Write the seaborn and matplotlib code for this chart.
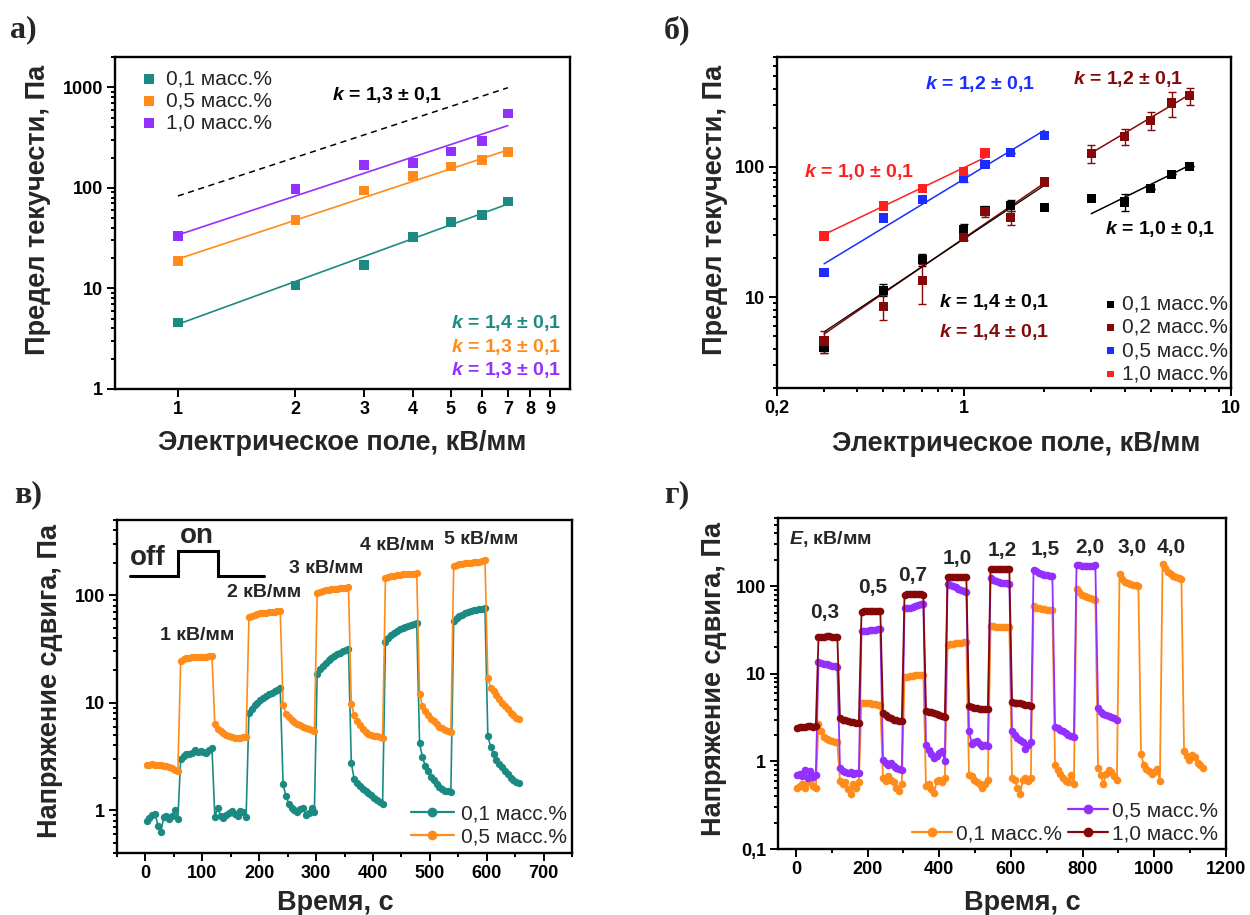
import numpy as np
import pandas as pd
import matplotlib
matplotlib.use("Agg")
import matplotlib.pyplot as plt
import seaborn as sns
from matplotlib.ticker import NullLocator, LogLocator, NullFormatter, MultipleLocator
from matplotlib.lines import Line2D

# ------------------------------------------------------------------ data
# panel а : yield stress vs field
field_a = [1, 2, 3, 4, 5, 6, 7]
tau_a_01 = [4.6, 10.7, 17, 32.6, 46, 54, 73]
tau_a_05 = [18.8, 47.7, 94, 131, 163, 188, 226]
tau_a_10 = [33.4, 98, 169, 177, 230, 293, 547]
fit_a_field = [1, 7]
fit_a_01 = [4.4, 69]
fit_a_05 = [19.6, 238]
fit_a_10 = [34, 416]
guide_a = [83, 990]

# panel б
field_b = [0.3, 0.5, 0.7, 1.0, 1.2, 1.5, 2.0, 3.0, 4.0, 5.0, 6.0, 7.0]
tau_b_01 = [4.1, 11.3, 19.4, 33, 46, 50.7, 48.6, 57, 53.8, 68, 88, 101]
err_b_01 = [0.4, 1.2, 2.0, 3.5, 3.0, 5.0, 0.0, 0.0, 8.0, 0.0, 0.0, 0.0]
tau_b_02 = [4.6, 8.5, 13.4, 28.5, 45.6, 41, 76.7, 127, 172, 228, 310, 352]
err_b_02 = [0.9, 1.8, 4.5, 1.0, 4.5, 5.0, 2.0, 20, 25, 35, 70, 55]
field_b_05 = [0.3, 0.5, 0.7, 1.0, 1.2, 1.5, 2.0]
tau_b_05 = [15.4, 40.5, 56, 82, 105, 129, 175]
err_b_05 = [0, 0, 0, 6, 0, 0, 0]
field_b_10 = [0.3, 0.5, 0.7, 1.0, 1.2]
tau_b_10 = [29.4, 50, 68, 92.7, 128]
fit_b_low = [0.3, 2.0]
fit_b_01_low = [5.4, 72]
fit_b_02_low = [5.2, 75]
fit_b_high = [3.0, 7.0]
fit_b_01_high = [43.7, 103]
fit_b_02_high = [128, 360]
fit_b_05 = [18.0, 191]
fit_b_10_x = [0.3, 1.2]
fit_b_10 = [30.2, 118]

# panel в : shear stress vs time (sampling step 5 s)
step_v = 5.0
start_v = 2.0
stress_v_01 = [
    0.80, 0.85, 0.90, 0.92, 0.72, 0.62, 0.86, 0.88, 0.82, 0.88, 1.00, 0.83,
    3.00, 3.20, 3.30, 3.35, 3.40, 3.60, 3.50, 3.55, 3.45, 3.40, 3.60, 3.75,
    0.87, 1.05, 0.88, 0.85, 0.90, 0.95, 0.98, 0.92, 0.88, 0.98, 0.96, 0.87,
    8.0, 8.8, 9.5, 10.0, 10.6, 11.1, 11.6, 12.0, 12.4, 12.8, 13.2, 13.6,
    1.75, 1.35, 1.15, 1.05, 1.00, 0.97, 1.02, 1.05, 0.90, 0.95, 1.05, 0.96,
    18.5, 20.5, 22.0, 23.5, 25.0, 26.2, 27.3, 28.3, 29.2, 30.0, 30.8, 31.6,
    2.75, 1.95, 1.80, 1.68, 1.58, 1.50, 1.43, 1.37, 1.30, 1.25, 1.20, 1.15,
    37, 40, 42.5, 44.5, 46.5, 48, 49.5, 51, 52, 53, 54, 55,
    4.2, 3.1, 2.6, 2.3, 2.05, 1.9, 1.75, 1.65, 1.58, 1.52, 1.50, 1.48,
    58, 61, 63.5, 65.5, 67.5, 69, 70.5, 72, 73, 74, 75, 75.5,
    4.9, 3.9, 3.3, 2.95, 2.7, 2.5, 2.3, 2.15, 2.0, 1.9, 1.82, 1.80,
]
stress_v_05 = [
    2.62, 2.65, 2.66, 2.64, 2.63, 2.62, 2.60, 2.56, 2.52, 2.45, 2.38, 2.32,
    24.5, 25.5, 26.0, 26.3, 26.5, 26.7, 26.6, 26.8, 26.5, 26.7, 26.9, 27.0,
    6.3, 5.7, 5.4, 5.2, 5.0, 4.9, 4.8, 4.7, 4.65, 4.7, 4.75, 4.8,
    62, 64.5, 66, 67, 67.5, 68, 68.5, 69, 69.5, 70, 70.5, 71,
    9.6, 7.9, 7.3, 6.9, 6.6, 6.4, 6.2, 6.0, 5.85, 5.7, 5.6, 5.5,
    104, 107, 109, 110.5, 112, 113, 114, 115, 116, 116.5, 117, 118,
    9.8, 7.6, 6.8, 6.2, 5.7, 5.35, 5.1, 5.0, 4.9, 4.85, 4.8, 4.65,
    143, 147, 150, 152, 153.5, 155, 156, 157, 157.5, 158, 158.5, 159,
    12.0, 9.3, 8.4, 7.7, 7.1, 6.7, 6.3, 6.0, 5.8, 5.6, 5.45, 5.35,
    188, 192, 194, 196, 198, 199, 200, 202, 203, 205, 207, 212,
    17.0, 13.8, 12.8, 11.8, 10.8, 10.0, 9.3, 8.7, 8.1, 7.6, 7.2, 7.0,
]
onoff_t = [-28, 58, 58, 127, 127, 208]
onoff_level = [150, 150, 258, 258, 150, 150]
fields_v = ["1 кВ/мм", "2 кВ/мм", "3 кВ/мм", "4 кВ/мм", "5 кВ/мм"]

# panel г : shear stress vs time (sampling step 7.5 s)
step_g = 7.5
start_g = 3.0
stress_g_01 = [
    0.50, 0.52, 0.55, 0.50, 0.58, 0.60, 0.52, 0.50,
    2.7, 2.2, 1.9, 1.8, 1.75, 1.7, 1.65, 1.65,
    0.60, 0.55, 0.58, 0.48, 0.42, 0.55, 0.50, 0.58,
    4.6, 4.7, 4.6, 4.6, 4.5, 4.5, 4.4, 4.4,
    0.65, 0.60, 0.68, 0.62, 0.58, 0.50, 0.46, 0.55,
    9.2, 9.3, 9.4, 9.5, 9.6, 9.7, 9.8, 9.8,
    0.52, 0.55, 0.48, 0.44, 0.60, 0.62, 0.58, 0.65,
    21.5, 22, 22, 22.3, 22.5, 22.7, 22.8, 23,
    0.70, 0.68, 0.62, 0.58, 0.55, 0.50, 0.55, 0.62,
    35, 35, 34.5, 34.5, 34.5, 34, 34, 34,
    0.65, 0.62, 0.50, 0.42, 0.62, 0.65, 0.60, 0.65,
    60, 57, 56, 55, 54.5, 54, 54, 54,
    0.92, 0.80, 0.72, 0.65, 0.60, 0.58, 0.70, 0.55,
    92, 85, 80, 77, 75, 73, 71.5, 70,
    0.85, 0.70, 0.55, 0.72, 0.80, 0.75, 0.68, 0.62,
    138, 120, 112, 108, 106, 104, 102, 100,
    1.20, 0.92, 0.82, 0.78, 0.72, 0.75, 0.82, 0.60,
    178, 160, 145, 137, 132, 128, 125, 122,
    1.30, 1.15, 1.05, 1.18, 1.12, 0.95, 0.90, 0.85,
]
stress_g_05 = [
    0.70, 0.72, 0.68, 0.80, 0.65, 0.78, 0.66, 0.70,
    13.5, 13.2, 13.0, 12.8, 12.6, 12.4, 12.2, 12.0,
    0.85, 0.78, 0.76, 0.74, 0.75, 0.72, 0.74, 0.73,
    31, 31, 31.2, 31.5, 31.7, 32, 32.2, 32.5,
    1.05, 0.95, 0.92, 0.95, 0.88, 0.85, 0.82, 0.80,
    57, 56, 57, 58, 59.5, 61, 62, 63,
    1.55, 1.35, 1.20, 1.10, 1.15, 1.25, 1.30, 1.00,
    107, 104, 100, 97, 94, 91, 89, 87,
    2.2, 1.6, 1.65, 1.70, 1.58, 1.50, 1.55, 1.50,
    125, 118, 114, 112, 110, 109, 108, 107,
    2.2, 2.0, 1.85, 1.75, 1.65, 1.40, 1.55, 1.65,
    155, 148, 143, 139, 136, 134, 132, 130,
    2.5, 2.4, 2.3, 2.2, 2.1, 2.0, 1.95, 1.9,
    175, 173, 172, 171, 171, 172, 172, 173,
    4.1, 3.7, 3.5, 3.4, 3.3, 3.2, 3.1, 3.0,
]
stress_g_10 = [
    2.40, 2.45, 2.50, 2.48, 2.52, 2.55, 2.50, 2.55,
    26, 26.5, 26.5, 26.8, 26.8, 26.5, 26.5, 26.5,
    3.10, 3.00, 2.95, 2.90, 2.85, 2.80, 2.78, 2.75,
    51, 51.5, 51.5, 52, 52, 52, 51.5, 51.5,
    3.6, 3.4, 3.25, 3.1, 3.0, 2.95, 2.90, 2.90,
    80, 80.5, 81, 81, 81, 80.5, 80.5, 80,
    3.8, 3.7, 3.65, 3.6, 3.5, 3.4, 3.3, 3.2,
    127, 128, 128, 128, 128, 128, 127, 127,
    4.3, 4.2, 4.1, 4.05, 4.0, 4.0, 3.95, 3.95,
    158, 158, 159, 159, 159, 158, 158, 158,
    4.8, 4.7, 4.65, 4.6, 4.5, 4.45, 4.4, 4.35,
]
fields_g = ["0,3", "0,5", "0,7", "1,0", "1,2", "1,5", "2,0", "3,0", "4,0"]

# ------------------------------------------------------------------ style
sns.set_theme(style="ticks")
plt.rcParams["font.family"] = ["Liberation Sans", "DejaVu Sans"]
plt.rcParams["mathtext.fontset"] = "custom"
plt.rcParams["mathtext.it"] = "Liberation Sans:italic:bold"
plt.rcParams["mathtext.rm"] = "Liberation Sans:bold"
plt.rcParams["axes.unicode_minus"] = False

TEAL = "#1b8a82"
ORANGE = "#ff8c1a"
PURPLE = "#9430ff"
MAROON = "#850808"
BLUE = "#1a2cff"
RED = "#ff1f1f"
LABEL_FS = 19.5

fig = plt.figure(figsize=(12.5, 9.15), dpi=100)
ax_a = fig.add_axes([0.092, 0.5749, 0.364, 0.3628])
ax_b = fig.add_axes([0.6216, 0.576, 0.3632, 0.3617])
ax_v = fig.add_axes([0.0936, 0.0678, 0.364, 0.3639])
ax_g = fig.add_axes([0.6224, 0.0721, 0.3584, 0.3617])


def style(ax):
    for s in ax.spines.values():
        s.set_linewidth(1.7)
        s.set_color("black")
    ax.tick_params(which="both", direction="out", top=False, right=False,
                   width=1.4, colors="black")
    ax.tick_params(which="major", length=5.5, labelsize=13, pad=3)
    ax.tick_params(which="minor", length=3)
    for lab in ax.get_xticklabels() + ax.get_yticklabels():
        lab.set_fontweight("bold")
    ax.grid(False)


def ktext(ax, x, y, s, color, ha="left"):
    ax.text(x, y, s, transform=ax.transAxes, color=color, fontsize=14,
            fontweight="bold", ha=ha, va="center")


# ------------------------------------------------------------------ panel а
ax = ax_a
for yfit, c in [(fit_a_01, TEAL), (fit_a_05, ORANGE), (fit_a_10, PURPLE)]:
    sns.lineplot(x=fit_a_field, y=yfit, color=c, linewidth=1.2, ax=ax)
sns.lineplot(x=fit_a_field, y=guide_a, color="black", linewidth=1.1,
             linestyle=(0, (4, 3)), ax=ax)
for yv, c, lab in [(tau_a_01, TEAL, "0,1 масс.%"), (tau_a_05, ORANGE, "0,5 масс.%"),
                   (tau_a_10, PURPLE, "1,0 масс.%")]:
    sns.scatterplot(x=field_a, y=yv, marker="s", s=48, color=c, edgecolor="none",
                    ax=ax, label=lab, zorder=3)
ax.set_xscale("log")
ax.set_yscale("log")
ax.set_xlim(0.69, 10.1)
ax.set_ylim(1, 2000)
ax.set_xticks([1, 2, 3, 4, 5, 6, 7, 8, 9], ["1", "2", "3", "4", "5", "6", "7", "8", "9"])
ax.xaxis.set_minor_locator(NullLocator())
ax.set_yticks([1, 10, 100, 1000], ["1", "10", "100", "1000"])
ax.yaxis.set_minor_locator(LogLocator(subs=range(2, 10)))
ax.yaxis.set_minor_formatter(NullFormatter())
ax.legend(loc="upper left", bbox_to_anchor=(0.02, 1.0), frameon=False, fontsize=15,
          handletextpad=0.2, labelspacing=0.15, handlelength=1.2, borderaxespad=0.2)
ktext(ax, 0.476, 0.887, r"$k$ = 1,3 ± 0,1", "black")
ktext(ax, 0.98, 0.199, r"$k$ = 1,4 ± 0,1", TEAL, ha="right")
ktext(ax, 0.98, 0.126, r"$k$ = 1,3 ± 0,1", ORANGE, ha="right")
ktext(ax, 0.98, 0.056, r"$k$ = 1,3 ± 0,1", PURPLE, ha="right")
ax.set_xlabel("Электрическое поле, кВ/мм", fontsize=LABEL_FS, fontweight="bold")
ax.set_ylabel("Предел текучести, Па", fontsize=LABEL_FS, fontweight="bold")
ax.xaxis.set_label_coords(0.5, -0.125)
ax.yaxis.set_label_coords(-0.14, 0.54)
style(ax)

# ------------------------------------------------------------------ panel б
ax = ax_b
sns.lineplot(x=fit_b_low, y=fit_b_02_low, color=MAROON, linewidth=1.1, ax=ax)
sns.lineplot(x=fit_b_low, y=fit_b_01_low, color="black", linewidth=0.9, ax=ax)
sns.lineplot(x=fit_b_high, y=fit_b_02_high, color=MAROON, linewidth=1.1, ax=ax)
sns.lineplot(x=fit_b_high, y=fit_b_01_high, color="black", linewidth=1.1, ax=ax)
sns.lineplot(x=fit_b_low, y=fit_b_05, color=BLUE, linewidth=1.1, ax=ax)
sns.lineplot(x=fit_b_10_x, y=fit_b_10, color=RED, linewidth=1.1, ax=ax)
ax.errorbar(field_b, tau_b_01, yerr=err_b_01, fmt="none", ecolor="black",
            elinewidth=1.0, capsize=3, capthick=1.0, zorder=2)
ax.errorbar(field_b, tau_b_02, yerr=err_b_02, fmt="none", ecolor=MAROON,
            elinewidth=1.0, capsize=3, capthick=1.0, zorder=2)
ax.errorbar(field_b_05, tau_b_05, yerr=err_b_05, fmt="none", ecolor=BLUE,
            elinewidth=1.0, capsize=3, capthick=1.0, zorder=2)
for xv, yv, c, lab in [(field_b, tau_b_01, "black", "0,1 масс.%"),
                       (field_b, tau_b_02, MAROON, "0,2 масс.%"),
                       (field_b_05, tau_b_05, BLUE, "0,5 масс.%"),
                       (field_b_10, tau_b_10, RED, "1,0 масс.%")]:
    sns.scatterplot(x=xv, y=yv, marker="s", s=44, color=c, edgecolor="none",
                    ax=ax, label=lab, zorder=3)
ax.set_xscale("log")
ax.set_yscale("log")
ax.set_xlim(0.2, 10)
ax.set_ylim(2, 700)
ax.set_xticks([0.2, 1, 10], ["0,2", "1", "10"])
ax.xaxis.set_minor_locator(LogLocator(subs=range(2, 10)))
ax.xaxis.set_minor_formatter(NullFormatter())
ax.set_yticks([10, 100], ["10", "100"])
ax.yaxis.set_minor_locator(LogLocator(subs=range(2, 10)))
ax.yaxis.set_minor_formatter(NullFormatter())
ax.legend(loc="lower right", bbox_to_anchor=(1.025, -0.03), frameon=False, fontsize=15,
          handletextpad=0.05, labelspacing=0.2, handlelength=1.0, borderaxespad=0.3,
          markerscale=0.7)
ktext(ax, 0.326, 0.919, r"$k$ = 1,2 ± 0,1", BLUE)
ktext(ax, 0.651, 0.935, r"$k$ = 1,2 ± 0,1", MAROON)
ktext(ax, 0.06, 0.653, r"$k$ = 1,0 ± 0,1", RED)
ktext(ax, 0.722, 0.481, r"$k$ = 1,0 ± 0,1", "black")
ktext(ax, 0.357, 0.26, r"$k$ = 1,4 ± 0,1", "black")
ktext(ax, 0.357, 0.169, r"$k$ = 1,4 ± 0,1", MAROON)
ax.set_xlabel("Электрическое поле, кВ/мм", fontsize=LABEL_FS, fontweight="bold")
ax.set_ylabel("Предел текучести, Па", fontsize=LABEL_FS, fontweight="bold")
ax.xaxis.set_label_coords(0.526, -0.13)
ax.yaxis.set_label_coords(-0.109, 0.537)
style(ax)

# ------------------------------------------------------------------ panel в
ax = ax_v
df_v01 = pd.DataFrame({"t": start_v + step_v * np.arange(len(stress_v_01)), "s": stress_v_01})
df_v05 = pd.DataFrame({"t": start_v + step_v * np.arange(len(stress_v_05)), "s": stress_v_05})
sns.lineplot(data=df_v01, x="t", y="s", color=TEAL, linewidth=1.2, marker="o",
             markersize=5.3, markeredgewidth=0, sort=False, estimator=None, ax=ax)
sns.lineplot(data=df_v05, x="t", y="s", color=ORANGE, linewidth=1.2, marker="o",
             markersize=5.3, markeredgewidth=0, sort=False, estimator=None, ax=ax)
ax.plot(onoff_t, onoff_level, color="black", linewidth=2.2, solid_joinstyle="miter")
ax.text(-28, 222, "off", fontsize=20, fontweight="bold", ha="left", va="center")
ax.text(90, 356, "on", fontsize=20, fontweight="bold", ha="center", va="center")
for (tx, ty), lab in zip([(91, 42), (208, 105), (318, 177), (443, 287), (590, 327)], fields_v):
    ax.text(tx, ty, lab, fontsize=14, fontweight="bold", ha="center", va="center")
ax.set_yscale("log")
ax.set_xlim(-50, 750)
ax.set_ylim(0.4, 500)
ax.set_xticks(range(0, 701, 100), [str(v) for v in range(0, 701, 100)])
ax.xaxis.set_minor_locator(MultipleLocator(50))
ax.set_yticks([1, 10, 100], ["1", "10", "100"])
ax.yaxis.set_minor_locator(LogLocator(subs=range(2, 10)))
ax.yaxis.set_minor_formatter(NullFormatter())
h_v = [Line2D([], [], color=TEAL, marker="o", markersize=6, linewidth=1.6),
       Line2D([], [], color=ORANGE, marker="o", markersize=6, linewidth=1.6)]
ax.legend(h_v, ["0,1 масс.%", "0,5 масс.%"], loc="lower right", bbox_to_anchor=(1.02, -0.025),
          frameon=False, fontsize=15, handlelength=2.1, handletextpad=0.3,
          labelspacing=0.2, borderaxespad=0.3)
ax.set_xlabel("Время, с", fontsize=LABEL_FS, fontweight="bold")
ax.set_ylabel("Напряжение сдвига, Па", fontsize=LABEL_FS, fontweight="bold")
ax.xaxis.set_label_coords(0.48, -0.112)
ax.yaxis.set_label_coords(-0.118, 0.515)
style(ax)

# ------------------------------------------------------------------ panel г
ax = ax_g
for vals, c in [(stress_g_01, ORANGE), (stress_g_05, PURPLE), (stress_g_10, MAROON)]:
    dfg = pd.DataFrame({"t": start_g + step_g * np.arange(len(vals)), "s": vals})
    sns.lineplot(data=dfg, x="t", y="s", color=c, linewidth=1.3, marker="o",
                 markersize=5.5, markeredgewidth=0, sort=False, estimator=None, ax=ax)
ax.text(-19, 344, r"$E$, кВ/мм", fontsize=14, fontweight="bold", ha="left", va="center")
for (tx, ty), lab in zip([(81, 50), (214, 97), (326, 131), (451, 207), (576, 257),
                          (696, 263), (820, 275), (939, 275), (1048, 275)], fields_g):
    ax.text(tx, ty, lab, fontsize=15, fontweight="bold", ha="center", va="center")
ax.set_yscale("log")
ax.set_xlim(-50, 1200)
ax.set_ylim(0.1, 600)
ax.set_xticks(range(0, 1201, 200), [str(v) for v in range(0, 1201, 200)])
ax.xaxis.set_minor_locator(MultipleLocator(100))
ax.set_yticks([0.1, 1, 10, 100], ["0,1", "1", "10", "100"])
ax.yaxis.set_minor_locator(LogLocator(subs=range(2, 10)))
ax.yaxis.set_minor_formatter(NullFormatter())
blank = Line2D([], [], linestyle="none")
h_g = [blank,
       Line2D([], [], color=ORANGE, marker="o", markersize=6, linewidth=1.6),
       Line2D([], [], color=PURPLE, marker="o", markersize=6, linewidth=1.6),
       Line2D([], [], color=MAROON, marker="o", markersize=6, linewidth=1.6)]
ax.legend(h_g, ["", "0,1 масс.%", "0,5 масс.%", "1,0 масс.%"], ncol=2,
          loc="lower right", bbox_to_anchor=(1.015, -0.028), frameon=False, fontsize=15,
          handlelength=1.9, handletextpad=0.2, columnspacing=0.3,
          labelspacing=0.2, borderaxespad=0.3)
ax.set_xlabel("Время, с", fontsize=LABEL_FS, fontweight="bold")
ax.set_ylabel("Напряжение сдвига, Па", fontsize=LABEL_FS, fontweight="bold")
ax.xaxis.set_label_coords(0.545, -0.125)
ax.yaxis.set_label_coords(-0.113, 0.515)
style(ax)

# ------------------------------------------------------------------ panel letters
for x, y, s in [(0.008, 0.983, "а)"), (0.531, 0.983, "б)"),
                (0.011, 0.475, "в)"), (0.531, 0.475, "г)")]:
    fig.text(x, y, s, fontsize=23, fontweight="bold", family="Liberation Serif",
             ha="left", va="top")

fig.savefig("out.png", dpi=100)
